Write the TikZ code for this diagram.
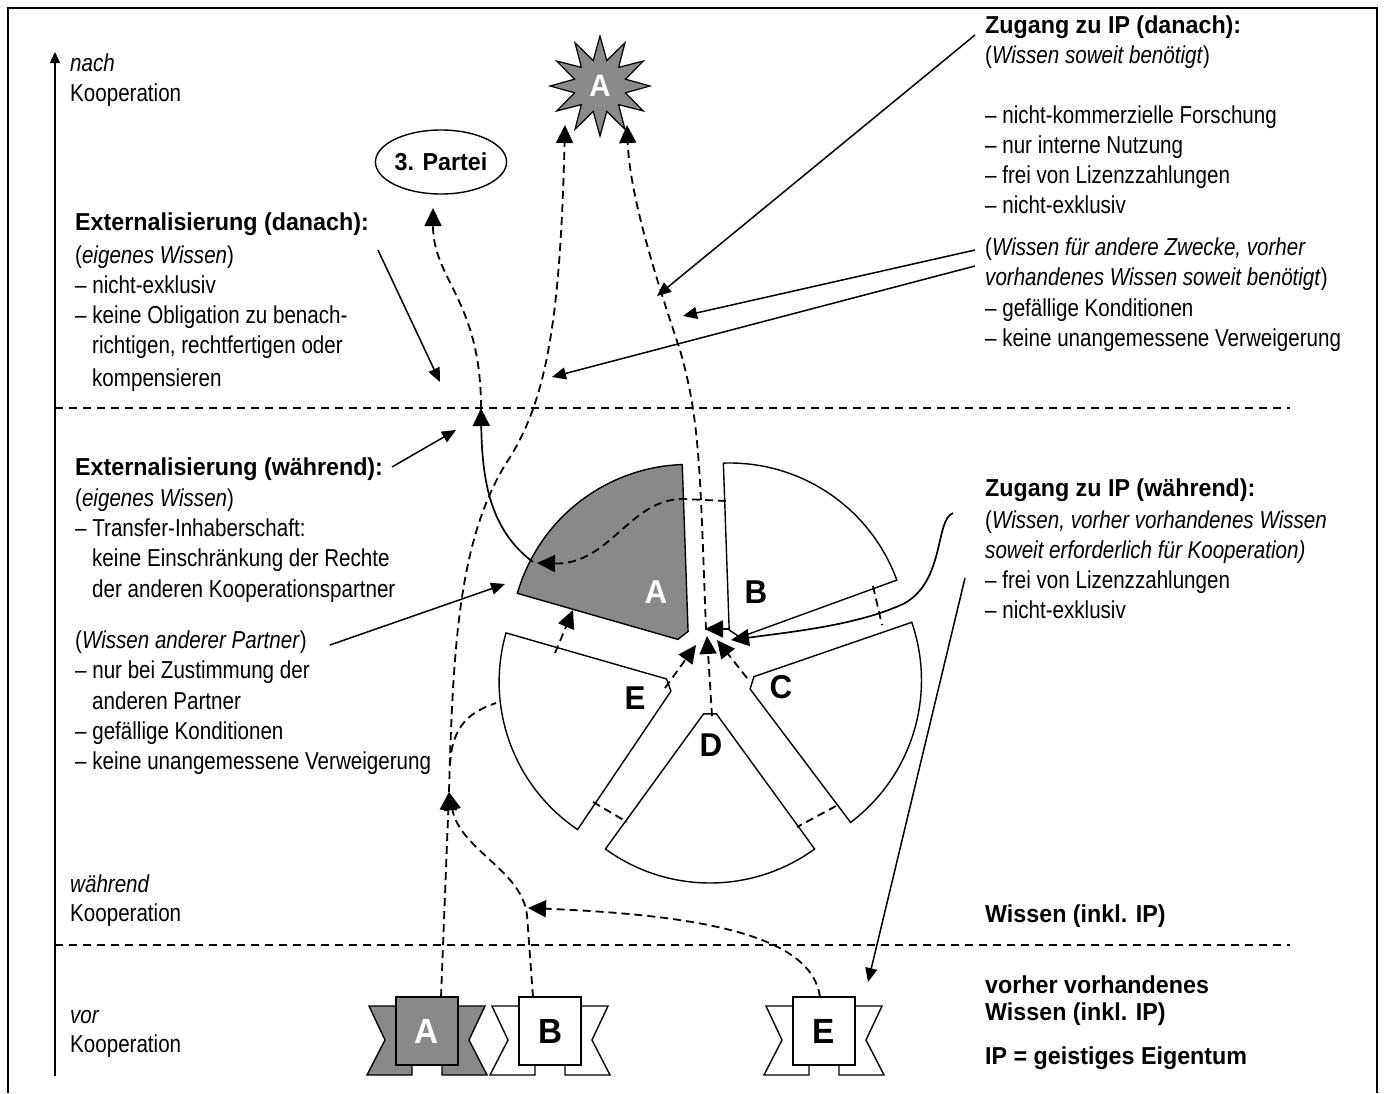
\documentclass[tikz,border=0pt]{standalone}
\usepackage{fontspec}
\setmainfont{Liberation Sans}[FakeStretch=0.84,BoldFeatures={FakeStretch=0.95}]
\usetikzlibrary{arrows.meta,shapes.geometric}
\definecolor{pgray}{RGB}{136,137,139}
\begin{document}
\begin{tikzpicture}[x=1pt,y=-1pt,
  txt/.style={anchor=base west,inner sep=0pt,font=\fontsize{24.5}{30}\selectfont},
  btxt/.style={anchor=base west,inner sep=0pt,font=\fontsize{24.5}{30}\selectfont\bfseries},
  sepline/.style={line width=1.4pt,dash pattern=on 8pt off 6pt},
  flow/.style={line width=1.8pt,dash pattern=on 8pt off 5pt},
  bigtip/.style={-{Triangle[length=18pt,width=17pt]}},
  smalltip/.style={-{Triangle[length=14pt,width=12pt]}},
  callout/.style={line width=1.5pt,smalltip},
  solidflow/.style={line width=1.7pt,bigtip},
  sector/.style={line width=1.4pt,draw=black},
  bigletter/.style={font=\fontsize{33}{33}\selectfont\bfseries,inner sep=0pt},
  bannerbox/.style={draw,line width=1.4pt,minimum width=62pt,minimum height=68pt,inner sep=0pt,font=\fontsize{35}{35}\selectfont\bfseries},
]
\useasboundingbox (0,0) rectangle (1384,1093);
% frame
\draw[line width=2pt] (8,1093) -- (8,8) -- (1377,8) -- (1377,1093);
% time axis
\coordinate (axb) at (55,1076);
\coordinate (axt) at (55,52);
\draw[line width=1.5pt,-{Triangle[length=11pt,width=10pt]}] (axb) -- (axt);
% separators
\coordinate (s1a) at (55,408); \coordinate (s1b) at (1290,408);
\coordinate (s2a) at (55,945); \coordinate (s2b) at (1290,945);
\draw[sepline] (s1a) -- (s1b);
\draw[sepline] (s2a) -- (s2b);

% pie sectors
\foreach \nm/\bis/\fc in {A/-128/pgray,B/-56/white,C/17/white,D/90/white,E/160/white}{
  \pgfmathsetmacro\apx{710+35*cos(\bis)}
  \pgfmathsetmacro\apy{670+35*sin(\bis)}
  \pgfmathsetmacro\angS{\bis-36}
  \pgfmathsetmacro\angE{\bis+36}
  \draw[sector,fill=\fc] ({\apx+11*cos(\angS)},{\apy+11*sin(\angS)})
     -- plot[domain=\angS:\angE,samples=50] ({\apx+178*cos(\x)},{\apy+178*sin(\x)})
     -- ({\apx+11*cos(\angE)},{\apy+11*sin(\angE)}) -- cycle;
}
\node[bigletter,text=white] (lA) at (656,592) {A};
\node[bigletter] (lB) at (756,592) {B};
\node[bigletter] (lC) at (781,687) {C};
\node[bigletter] (lD) at (711,745) {D};
\node[bigletter] (lE) at (635,698) {E};

% star and third party
\node[star,star points=12,star point ratio=1.9,minimum size=100pt,inner sep=0pt,
      draw,line width=1.2pt,fill=pgray,text=white,font=\fontsize{31}{31}\selectfont\bfseries] (star) at (600,86) {A};
\node[ellipse,draw,line width=1.4pt,minimum width=108pt,minimum height=64pt,inner sep=0pt,
      font=\fontsize{24.5}{30}\selectfont\bfseries] (partei) at (441,162) {3. Partei};

% banners
\foreach \cx/\fc in {427/pgray,550/white,824/white}{
  \draw[line width=1.4pt,fill=\fc] (\cx-58,1006) -- (\cx-15,1006) -- (\cx-15,1075) -- (\cx-60,1075) -- (\cx-42,1040) -- cycle;
  \draw[line width=1.4pt,fill=\fc] (\cx+58,1006) -- (\cx+15,1006) -- (\cx+15,1075) -- (\cx+60,1075) -- (\cx+42,1040) -- cycle;
}
\node[bannerbox,fill=pgray,text=white] (banA) at (427,1031) {A};
\node[bannerbox,fill=white] (banB) at (550,1031) {B};
\node[bannerbox,fill=white] (banE) at (824,1031) {E};

% named points for flows
\coordinate (bA) at (441,997);
\coordinate (bB) at (533,997);
\coordinate (bBm) at (527,915);
\coordinate (bE) at (820,997);
\coordinate (J) at (449,792);
\coordinate (Bin) at (528,908);
\coordinate (Jbr) at (450,765);
\coordinate (Eedge) at (496,703);
\coordinate (mid1) at (505,465);
\coordinate (starL) at (565,125);
\coordinate (cTop) at (706,630);
\coordinate (m2) at (680,350);
\coordinate (starR) at (627,125);
\coordinate (extpt) at (481,408);
\coordinate (pTip) at (433,208);
\coordinate (Aarc) at (533,562);
\coordinate (BAs) at (726,501);
\coordinate (BAm) at (684,499);
\coordinate (BAt) at (537,563);
\coordinate (EAs) at (555,653);
\coordinate (EAt) at (573,610);
\coordinate (cBs) at (729,629); \coordinate (cBt) at (705,629);
\coordinate (cCs) at (747,678); \coordinate (cCt) at (717,640);
\coordinate (cDs) at (712,716); \coordinate (cDt) at (707,636);
\coordinate (cEs) at (665,688); \coordinate (cEt) at (696,645);
\coordinate (rs) at (953,513);
\coordinate (rm) at (905,603);
\coordinate (rt) at (731,640);
\coordinate (bc1) at (873,586); \coordinate (bc2) at (882,625);
\coordinate (cd1) at (836,806); \coordinate (cd2) at (797,827);
\coordinate (de1) at (593,802); \coordinate (de2) at (627,822);

% flows
\draw[flow,bigtip] (bA) -- (J);
\draw[flow,bigtip] (bB) -- (bBm) .. controls (522,870) and (460,850) .. (J);
\draw[flow,bigtip] (bE) .. controls (812,935) and (700,915) .. (Bin);
\draw[flow,bigtip] (J) .. controls (453,640) and (460,540) .. (mid1) .. controls (545,405) and (560,330) .. (starL);
\draw[flow] (Jbr) .. controls (452,725) and (470,712) .. (Eedge);
\draw[flow,bigtip] (cTop) .. controls (700,470) and (700,420) .. (m2) .. controls (660,290) and (630,200) .. (starR);
\draw[flow,bigtip] (extpt) .. controls (481,300) and (433,280) .. (pTip);
\draw[solidflow] (Aarc) .. controls (490,530) and (482,480) .. (extpt);
\draw[flow,bigtip] (BAs) -- (BAm) .. controls (630,498) and (610,565) .. (BAt);
\draw[flow,bigtip] (EAs) -- (EAt);
\draw[flow,bigtip] (cBs) -- (cBt);
\draw[flow,bigtip] (cCs) -- (cCt);
\draw[flow,bigtip] (cDs) -- (cDt);
\draw[flow,bigtip] (cEs) -- (cEt);
\draw[solidflow] (rs) .. controls (935,520) and (945,580) .. (rm) .. controls (860,625) and (790,632) .. (rt);
\draw[flow] (bc1) -- (bc2);
\draw[flow] (cd1) -- (cd2);
\draw[flow] (de1) -- (de2);

% callouts
\coordinate (k1s) at (378,250); \coordinate (k1t) at (440,382);
\coordinate (k2s) at (392,467); \coordinate (k2t) at (456,430);
\coordinate (k3s) at (330,645); \coordinate (k3t) at (505,584);
\coordinate (k4s) at (975,35);  \coordinate (k4t) at (657,296);
\coordinate (k5s) at (975,250); \coordinate (k5t) at (683,316);
\coordinate (k6s) at (975,266); \coordinate (k6t) at (552,377);
\coordinate (k7s) at (965,578); \coordinate (k7t) at (868,982);
\draw[callout] (k1s) -- (k1t);
\draw[callout] (k2s) -- (k2t);
\draw[callout] (k3s) -- (k3t);
\draw[callout] (k4s) -- (k4t);
\draw[callout] (k5s) -- (k5t);
\draw[callout] (k6s) -- (k6t);
\draw[callout] (k7s) -- (k7t);

% axis labels
\node[txt] (ax1) at (70,71) {\itshape nach};
\node[txt] (ax2) at (70,101) {Kooperation};
\node[txt] (ax3) at (70,892) {\itshape während};
\node[txt] (ax4) at (70,921) {Kooperation};
\node[txt] (ax5) at (70,1023) {\itshape vor};
\node[txt] (ax6) at (70,1052) {Kooperation};

% Externalisierung (danach)
\node[btxt] (ed0) at (75,230) {Externalisierung (danach):};
\node[txt] (ed1) at (75,263) {(\textit{eigenes Wissen})};
\node[txt] (ed2) at (75,293) {– nicht-exklusiv};
\node[txt] (ed3) at (75,323) {– keine Obligation zu benach-};
\node[txt] (ed4) at (92,353) {richtigen, rechtfertigen oder};
\node[txt] (ed5) at (92,386) {kompensieren};

% Externalisierung (während)
\node[btxt] (ew0) at (75,475) {Externalisierung (während):};
\node[txt] (ew1) at (75,506) {(\textit{eigenes Wissen})};
\node[txt] (ew2) at (75,536) {– Transfer-Inhaberschaft:};
\node[txt] (ew3) at (92,566) {keine Einschränkung der Rechte};
\node[txt] (ew4) at (92,597) {der anderen Kooperationspartner};
\node[txt] (ew5) at (75,648) {(\textit{Wissen anderer Partner})};
\node[txt] (ew6) at (75,678) {– nur bei Zustimmung der};
\node[txt] (ew7) at (92,709) {anderen Partner};
\node[txt] (ew8) at (75,739) {– gefällige Konditionen};
\node[txt] (ew9) at (75,769) {– keine unangemessene Verweigerung};

% Zugang zu IP (danach)
\node[btxt] (zd0) at (985,33) {Zugang zu IP (danach):};
\node[txt] (zd1) at (985,63) {(\textit{Wissen soweit benötigt})};
\node[txt] (zd2) at (985,123) {– nicht-kommerzielle Forschung};
\node[txt] (zd3) at (985,153) {– nur interne Nutzung};
\node[txt] (zd4) at (985,183) {– frei von Lizenzzahlungen};
\node[txt] (zd5) at (985,213) {– nicht-exklusiv};
\node[txt] (zd6) at (985,255) {(\textit{Wissen für andere Zwecke, vorher}};
\node[txt] (zd7) at (985,285) {\textit{vorhandenes Wissen soweit benötigt})};
\node[txt] (zd8) at (985,316) {– gefällige Konditionen};
\node[txt] (zd9) at (985,346) {– keine unangemessene Verweigerung};

% Zugang zu IP (während)
\node[btxt] (zw0) at (985,496) {Zugang zu IP (während):};
\node[txt] (zw1) at (985,528) {(\textit{Wissen, vorher vorhandenes Wissen}};
\node[txt] (zw2) at (985,558) {\textit{soweit erforderlich für Kooperation)}};
\node[txt] (zw3) at (985,588) {– frei von Lizenzzahlungen};
\node[txt] (zw4) at (985,618) {– nicht-exklusiv};

% legend
\node[btxt] (lg1) at (985,922) {Wissen (inkl. IP)};
\node[btxt] (lg2) at (985,993) {vorher vorhandenes};
\node[btxt] (lg3) at (985,1020) {Wissen (inkl. IP)};
\node[btxt] (lg4) at (985,1064) {IP = geistiges Eigentum};
\end{tikzpicture}
\end{document}
